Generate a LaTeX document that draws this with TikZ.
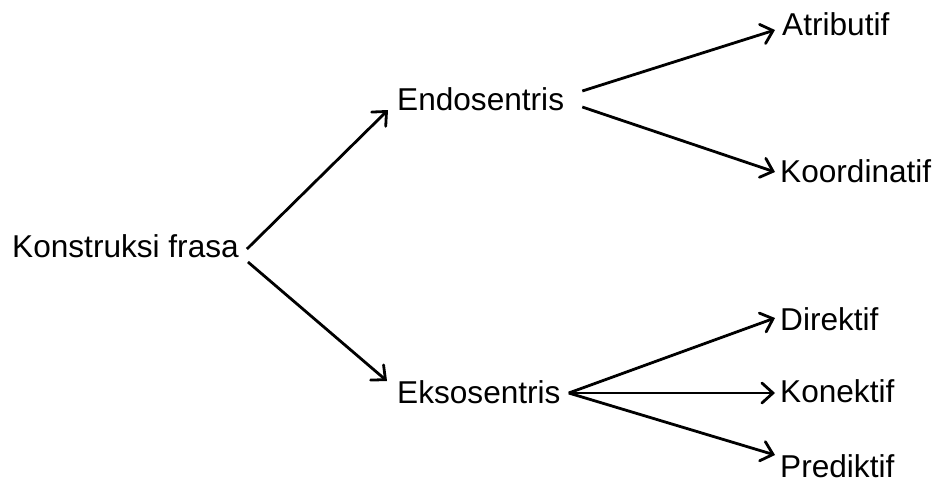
\documentclass[tikz,border=0pt]{standalone}
\usepackage{fontspec}
\setmainfont{Liberation Sans}
\usepackage{tikz}
\usetikzlibrary{arrows.meta}

\begin{document}
\begin{tikzpicture}[x=1pt, y=-1pt,
  lbl/.style={inner sep=0pt, anchor=base west, text height=22pt, text depth=0pt,
    font=\fontsize{31.6}{38}\selectfont},
  arr/.style={line width=2.8pt, -{Straight Barb[length=11pt, width=20pt, line cap=round]}}]
\useasboundingbox (0,0) rectangle (939,482);

\node[lbl] (konstruksi) at (12,257) {Konstruksi frasa};
\node[lbl] (endo) at (397,110) {Endosentris};
\node[lbl] (ekso) at (397,403) {Eksosentris};

\node[lbl] (atributif) at (782,35) {Atributif};
\node[lbl] (koordinatif) at (780,182) {Koordinatif};
\node[lbl] (direktif) at (780,330) {Direktif};
\node[lbl] (konektif) at (780,402) {Konektif};
\node[lbl] (prediktif) at (780,477) {Prediktif};

\draw[arr] ([xshift=8pt,yshift=-3pt]konstruksi.east) -- ([xshift=-9pt,yshift=-11pt]endo.west);
\draw[arr] ([xshift=9pt,yshift=-16pt]konstruksi.east) -- ([xshift=-10pt,yshift=11pt]ekso.west);

\draw[arr] ([xshift=18pt,yshift=8pt]endo.east) -- ([xshift=-7pt,yshift=-6pt]atributif.west);
\draw[arr] ([xshift=18pt,yshift=-8pt]endo.east) -- ([xshift=-5pt,yshift=-1pt]koordinatif.west);

\draw[arr] ([xshift=8pt,yshift=-1pt]ekso.east) -- ([xshift=-5pt,yshift=1pt]direktif.west);
\draw[arr] ([xshift=8pt,yshift=-1pt]ekso.east) -- ([xshift=-5pt,yshift=-2pt]konektif.west);
\draw[arr] ([xshift=8pt,yshift=-1pt]ekso.east) -- ([xshift=-5pt,yshift=11pt]prediktif.west);
\end{tikzpicture}
\end{document}
